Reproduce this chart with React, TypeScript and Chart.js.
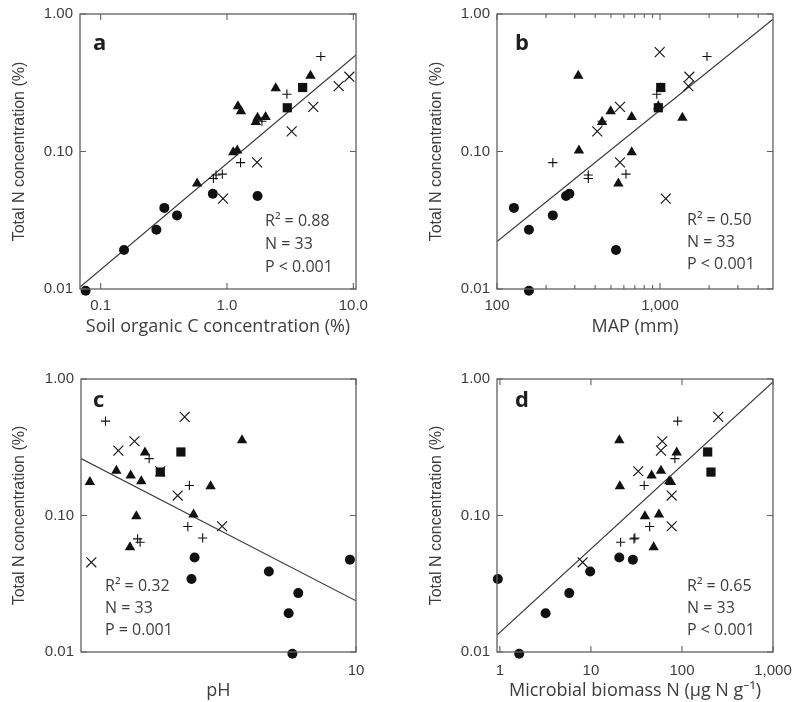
import React, { useEffect, useRef } from 'react';
import { Chart, registerables } from 'chart.js';

Chart.register(...registerables);

// Total N concentration (%) per site, grouped by symbol (shared by all panels)
const nCircle = [0.0097, 0.0192, 0.027, 0.0343, 0.0389, 0.0493, 0.0475];
const nTriangle = [0.176, 0.213, 0.196, 0.178, 0.289, 0.0988, 0.0585, 0.1017, 0.164, 0.356];
const nSquare = [0.292, 0.208];
const nPlus = [0.491, 0.261, 0.166, 0.083, 0.0685, 0.0674, 0.0637];
const nCross = [0.528, 0.35, 0.299, 0.211, 0.14, 0.0834, 0.0454];

// a: soil organic C concentration (%)
const socCircle = [0.076, 0.153, 0.276, 0.402, 0.319, 0.772, 1.745];
const socTriangle = [1.745, 1.22, 1.29, 2.02, 2.43, 1.12, 0.58, 1.205, 1.69, 4.58];
const socSquare = [3.97, 3.0];
const socPlus = [5.53, 2.98, 1.89, 1.28, 0.918, 0.819, 0.78];
const socCross = [12, 9.3, 7.66, 4.82, 3.25, 1.73, 0.93];

// b: MAP (mm)
const mapCircle = [157, 537, 157, 220, 127, 278, 265];
const mapTriangle = [1371, 976, 498, 670, 1010, 670, 555, 318, 441, 315];
const mapSquare = [1010, 976];
const mapPlus = [1941, 955, 441, 220, 618, 363, 363];
const mapCross = [995, 1513, 1492, 568, 412, 568, 1084];

// c: pH
const phCircle = [8.09, 7.99, 8.25, 5.78, 7.48, 5.84, 9.8];
const phTriangle = [4.12, 4.5, 4.72, 4.89, 4.95, 4.81, 4.71, 5.82, 6.16, 6.84];
const phSquare = [5.58, 5.21];
const phPlus = [4.34, 5.02, 5.74, 5.71, 6.0, 4.83, 4.87];
const phCross = [5.65, 4.78, 4.53, 5.21, 5.52, 6.4, 4.14];

// d: microbial biomass N (ug N g-1)
const mbnCircle = [1.63, 3.18, 5.78, 0.95, 9.82, 20.5, 28.9];
const mbnTriangle = [75.7, 58.8, 46.4, 72.5, 87.5, 39.2, 48.9, 55.9, 20.8, 20.5];
const mbnSquare = [191.6, 208.3];
const mbnPlus = [89.7, 83.7, 38.5, 44.2, 30.4, 29.7, 21.2];
const mbnCross = [250.6, 60.8, 58.8, 33.1, 77.1, 77.1, 8.11];

// log10-log10 regression fits: [intercept, slope]
const fitSoc = [-1.087, 0.772];
const fitMap = [-3.565, 0.955];
const fitPh = [0.993, -2.618];
const fitMbn = [-1.857, 0.612];

// tick values and labels
const yTicks = [0.01, 0.1, 1];
const yTickLabels = ['0.01', '0.10', '1.00'];
const socTicks = [0.1, 1, 10];
const socTickLabels = ['0.1', '1.0', '10.0'];
const mapTicks = [100, 1000];
const mapTickLabels = ['100', '1,000'];
const mapMinorTicks = [200, 300, 400, 500, 600, 700, 800, 900, 2000, 3000, 4000];
const phTicks = [10];
const phTickLabels = ['10'];
const mbnTicks = [1, 10, 100, 1000];
const mbnTickLabels = ['1', '10', '100', '1,000'];

const statsA = ['R² = 0.88', 'N = 33', 'P < 0.001'];
const statsB = ['R² = 0.50', 'N = 33', 'P < 0.001'];
const statsC = ['R² = 0.32', 'N = 33', 'P = 0.001'];
const statsD = ['R² = 0.65', 'N = 33', 'P < 0.001'];

const TEXT = '#3d3d3d';
const SANS = '"Liberation Sans", Arial, sans-serif';
const HUMAN = '"Open Sans", "Noto Sans", sans-serif';

const PANELS = [
  {
    id: 'a', left: 0, top: 0, width: 398, height: 350, yWidth: 80, padTop: 14, padRight: 42,
    xHeight: 61, xTickPad: 8, xTitlePad: 12.2, yTitlePad: 10.4,
    xMin: 0.0686, xMax: 10.5, xMajor: socTicks, xLabels: socTickLabels, xMinor: [] as number[],
    xTitle: 'Soil organic C concentration (%)',
    xs: [socCircle, socTriangle, socSquare, socPlus, socCross], fit: fitSoc,
    letter: 'a', letterAt: [13, 36], stats: statsA, statsAt: [185, 207.7], statsGap: 22.7,
  },
  {
    id: 'b', left: 398, top: 0, width: 398, height: 350, yWidth: 99, padTop: 14, padRight: 23,
    xHeight: 61, xTickPad: 8, xTitlePad: 12.2, yTitlePad: 29.4,
    xMin: 100, xMax: 4930, xMajor: mapTicks, xLabels: mapTickLabels, xMinor: mapMinorTicks,
    xTitle: 'MAP (mm)',
    xs: [mapCircle, mapTriangle, mapSquare, mapPlus, mapCross], fit: fitMap,
    letter: 'b', letterAt: [18, 36], stats: statsB, statsAt: [190, 206], statsGap: 22,
  },
  {
    id: 'c', left: 0, top: 350, width: 398, height: 352, yWidth: 81, padTop: 29, padRight: 42,
    xHeight: 50, xTickPad: 10, xTitlePad: 0.2, yTitlePad: 10.4,
    xMin: 4, xMax: 10, xMajor: phTicks, xLabels: phTickLabels, xMinor: [] as number[],
    xTitle: 'pH',
    xs: [phCircle, phTriangle, phSquare, phPlus, phCross], fit: fitPh,
    letter: 'c', letterAt: [12, 28], stats: statsC, statsAt: [24, 207.7], statsGap: 22,
  },
  {
    id: 'd', left: 398, top: 350, width: 398, height: 352, yWidth: 99, padTop: 29, padRight: 23,
    xHeight: 50, xTickPad: 10, xTitlePad: 0.2, yTitlePad: 29.4,
    xMin: 0.93, xMax: 1000, xMajor: mbnTicks, xLabels: mbnTickLabels, xMinor: [] as number[],
    xTitle: 'Microbial biomass N (μg N g⁻¹)',
    xs: [mbnCircle, mbnTriangle, mbnSquare, mbnPlus, mbnCross], fit: fitMbn,
    letter: 'd', letterAt: [18, 28], stats: statsD, statsAt: [190, 207.7], statsGap: 22,
  },
];

function labelOf(v: number, vals: number[], labels: string[]) {
  const i = vals.findIndex((m) => Math.abs(m - v) / m < 1e-6);
  return i >= 0 ? labels[i] : '';
}

const framePlugin = {
  id: 'frame',
  afterDatasetsDraw(chart: any, _args: any, o: any) {
    const { ctx, chartArea: ar, scales } = chart;
    const xs = scales.x;
    const ys = scales.y;
    ctx.save();
    ctx.strokeStyle = '#606060';
    ctx.lineWidth = 1.3;
    ctx.strokeRect(ar.left, ar.top, ar.right - ar.left, ar.bottom - ar.top);
    ctx.lineWidth = 1.1;
    ctx.beginPath();
    const vtick = (v: number, len: number) => {
      const p = xs.getPixelForValue(v);
      ctx.moveTo(p, ar.bottom);
      ctx.lineTo(p, ar.bottom - len);
      ctx.moveTo(p, ar.top);
      ctx.lineTo(p, ar.top + len);
    };
    o.xMajor.forEach((v: number) => vtick(v, 6));
    o.xMinor.forEach((v: number) => vtick(v, 4));
    o.yMajor.forEach((v: number) => {
      const p = ys.getPixelForValue(v);
      ctx.moveTo(ar.left, p);
      ctx.lineTo(ar.left + 6, p);
      ctx.moveTo(ar.right, p);
      ctx.lineTo(ar.right - 6, p);
    });
    ctx.stroke();

    ctx.fillStyle = '#1e1e1e';
    ctx.font = 'bold 22px ' + HUMAN;
    ctx.textBaseline = 'alphabetic';
    ctx.textAlign = 'left';
    ctx.fillText(o.letter, ar.left + o.letterAt[0], ar.top + o.letterAt[1]);

    ctx.fillStyle = TEXT;
    ctx.font = '16px ' + HUMAN;
    ctx.textBaseline = 'middle';
    o.stats.forEach((s: string, i: number) => {
      ctx.fillText(s, ar.left + o.statsAt[0], ar.top + o.statsAt[1] + i * o.statsGap);
    });
    ctx.restore();
  },
};

function buildConfig(p: any): any {
  const groups = [
    { n: nSquare, x: p.xs[2], style: 'rect', r: 6.5, bw: 0, clip: false as any },
    { n: nTriangle, x: p.xs[1], style: 'triangle', r: 6, bw: 0, clip: false as any },
    { n: nCircle, x: p.xs[0], style: 'circle', r: 5, bw: 0, clip: false as any },
    { n: nPlus, x: p.xs[3], style: 'cross', r: 4.6, bw: 1.1, clip: false as any },
    { n: nCross, x: p.xs[4], style: 'crossRot', r: 7, bw: 1.1, clip: 0 as any },
  ];
  const datasets: any[] = groups.map((g) => ({
    data: g.x.map((xv: number, i: number) => ({ x: xv, y: g.n[i] })),
    pointStyle: g.style,
    pointRadius: g.r,
    pointBackgroundColor: '#111',
    pointBorderColor: '#111',
    pointBorderWidth: g.bw,
    showLine: false,
    clip: g.clip,
  }));
  datasets.push({
    data: [p.xMin, p.xMax].map((x: number) => ({ x, y: Math.pow(10, p.fit[0] + p.fit[1] * Math.log10(x)) })),
    showLine: true,
    pointRadius: 0,
    borderColor: '#3a3a3a',
    borderWidth: 1.2,
    clip: 0,
  });

  return {
    type: 'scatter',
    data: { datasets },
    plugins: [framePlugin],
    options: {
      responsive: false,
      animation: false,
      devicePixelRatio: 1,
      events: [],
      layout: { padding: { top: p.padTop, right: p.padRight, left: 0, bottom: 0 } },
      plugins: {
        legend: { display: false },
        tooltip: { enabled: false },
        frame: {
          xMajor: p.xMajor, xMinor: p.xMinor, yMajor: yTicks,
          letter: p.letter, letterAt: p.letterAt,
          stats: p.stats, statsAt: p.statsAt, statsGap: p.statsGap,
        },
      },
      scales: {
        x: {
          type: 'logarithmic',
          min: p.xMin,
          max: p.xMax,
          bounds: 'data',
          afterBuildTicks: (s: any) => {
            s.ticks = [...p.xMajor, ...p.xMinor].sort((a: number, b: number) => a - b).map((v: number) => ({ value: v }));
          },
          afterFit: (s: any) => {
            s.height = p.xHeight;
            s.paddingLeft = 0;
            s.paddingRight = 0;
          },
          grid: { display: false, drawTicks: false },
          border: { display: false },
          ticks: {
            autoSkip: false,
            maxRotation: 0,
            minRotation: 0,
            padding: p.xTickPad,
            color: TEXT,
            font: { family: SANS, size: 15 },
            callback: (v: any) => labelOf(Number(v), p.xMajor, p.xLabels),
          },
          title: {
            display: true,
            text: p.xTitle,
            color: TEXT,
            font: { family: HUMAN, size: 18 },
            padding: { top: 0, bottom: p.xTitlePad },
          },
        },
        y: {
          type: 'logarithmic',
          min: 0.01,
          max: 1,
          bounds: 'data',
          afterBuildTicks: (s: any) => {
            s.ticks = yTicks.map((v) => ({ value: v }));
          },
          afterFit: (s: any) => {
            s.width = p.yWidth;
            s.paddingTop = 0;
            s.paddingBottom = 0;
          },
          grid: { display: false, drawTicks: false },
          border: { display: false },
          ticks: {
            autoSkip: false,
            padding: 7,
            color: TEXT,
            font: { family: SANS, size: 15 },
            callback: (v: any) => labelOf(Number(v), yTicks, yTickLabels),
          },
          title: {
            display: true,
            text: 'Total N concentration (%)',
            color: TEXT,
            font: { family: SANS, size: 16 },
            padding: { top: p.yTitlePad, bottom: 0 },
          },
        },
      },
    },
  };
}

function Panel({ cfg }: { cfg: any }) {
  const ref = useRef<HTMLCanvasElement>(null);
  useEffect(() => {
    if (!ref.current) return;
    const chart = new Chart(ref.current, buildConfig(cfg));
    return () => chart.destroy();
  }, [cfg]);
  return (
    <canvas
      ref={ref}
      width={cfg.width}
      height={cfg.height}
      style={{ position: 'absolute', left: cfg.left, top: cfg.top, width: cfg.width, height: cfg.height }}
    />
  );
}

export default function App() {
  return (
    <div style={{ position: 'fixed', left: 0, top: 0, width: 796, height: 702, background: '#fff', overflow: 'hidden' }}>
      {PANELS.map((p) => (
        <Panel key={p.id} cfg={p} />
      ))}
    </div>
  );
}
